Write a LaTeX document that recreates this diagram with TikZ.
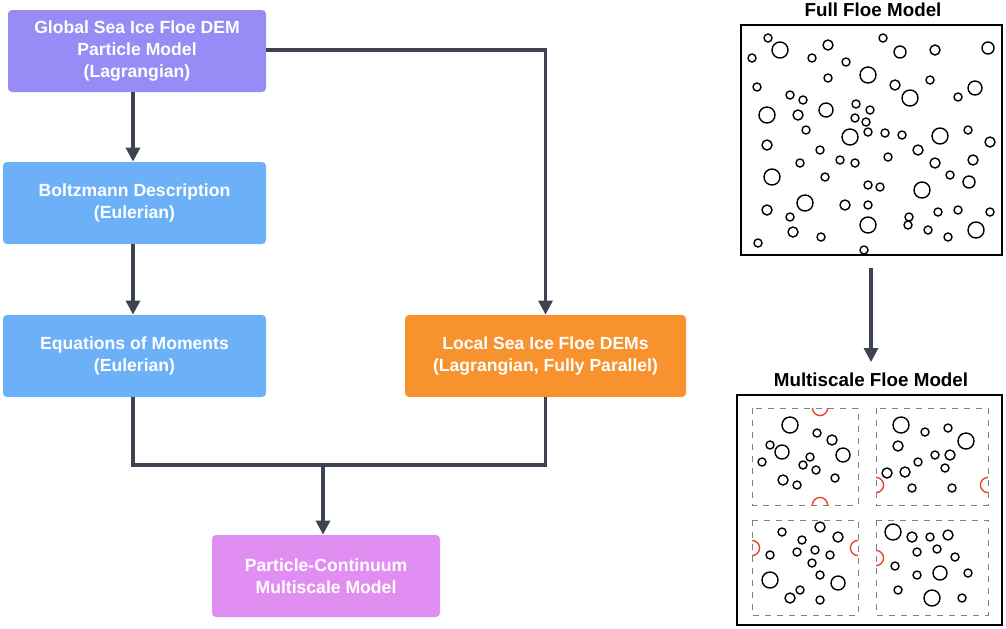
\documentclass[tikz,border=0pt]{standalone}
\usepackage{fontspec}
\setmainfont{Liberation Sans}
\usetikzlibrary{arrows.meta,positioning}
\definecolor{globalc}{HTML}{978BF5}
\definecolor{eulerc}{HTML}{6CB0F8}
\definecolor{localc}{HTML}{F7922E}
\definecolor{multic}{HTML}{E08EF2}
\definecolor{linkc}{HTML}{3D4350}
\definecolor{cutc}{HTML}{E8452C}
\tikzset{
    headarrow/.style = {-{Triangle[length=7pt,width=7pt]}},
    link/.style = {linkc, line width=1.6pt},
    stage/.style = {rounded corners=2pt, text=white, align=center,
        font=\fontsize{8.8}{10.8}\selectfont\bfseries, inner sep=0pt},
    floe/.style = {line width=0.7pt},
    cut/.style = {cutc, line width=0.7pt},
    sub/.style = {gray, dashed, line width=0.5pt},
    title/.style = {font=\fontsize{9.4}{11}\selectfont\bfseries}
}

\begin{document}
\begin{tikzpicture}[x=0.5pt,y=-0.5pt]
    \useasboundingbox (0,0) rectangle (1006,628);

    % stages
    \node[stage, fill=globalc, minimum width=129pt, minimum height=41pt] (G) at (137,51)
        {Global Sea Ice Floe DEM\\Particle Model\\(Lagrangian)};
    \node[stage, fill=eulerc, minimum width=131.5pt, minimum height=41pt] (B) at (134.5,203)
        {Boltzmann Description\\(Eulerian)};
    \node[stage, fill=eulerc, minimum width=131.5pt, minimum height=41pt] (E) at (134.5,356)
        {Equations of Moments\\(Eulerian)};
    \node[stage, fill=localc, minimum width=140.5pt, minimum height=41pt] (L) at (545.5,356)
        {Local Sea Ice Floe DEMs\\(Lagrangian, Fully Parallel)};
    \node[stage, fill=multic, minimum width=114pt, minimum height=41pt] (P) at (326,576)
        {Particle-Continuum\\Multiscale Model};

    % edges
    \foreach \Source/\Target in {G/B, B/E}
        \draw[link, headarrow] (\Source.south -| 133,0) -- (\Target.north -| 133,0);
    \draw[link, headarrow] (G.east |- 0,50) -| (L.north);
    \coordinate (M) at (323,465);
    \draw[link] (E.south -| 133,0) |- (M) -| (L.south);
    \draw[link, headarrow] (M) -- (P.north -| M);

    % full floe model
    \node[title] (FT) at (873,10) {Full Floe Model};
    \node[draw, line width=0.8pt, minimum width=130.5pt, minimum height=115pt, inner sep=0pt] (F) at (871.5,140) {};
    \foreach \X/\Y/\R in {768/38/4,780/50/8,752/58/4,828/45/5,883/38/4,900/52/6,935/50/5,988/48/6,
        812/58/4,846/62/4,868/75/8,828/78/4,895/85/5,930/80/4,975/88/7,757/87/4,790/95/4,803/100/4,
        826/110/7,856/104/4,870/110/4,910/98/8,767/115/8,798/115/5,855/118/4,866/122/4,958/97/4,
        806/130/4,850/137/8,868/132/4,885/133/4,902/135/4,940/136/8,968/130/4,767/145/5,820/150/4,
        840/160/4,918/150/5,990/142/5,800/163/4,855/163/4,888/157/4,935/163/5,973/160/5,772/177/8,
        825/177/4,868/185/4,880/187/4,922/190/8,969/182/6,950/175/4,805/203/8,845/205/5,868/205/4,
        767/210/5,790/217/4,868/225/8,909/217/4,928/230/4,938/212/4,958/210/4,990/212/4,976/230/8,
        793/232/5,821/237/4,908/225/4,948/237/4,758/243/4,864/250/4}
        \draw[floe] (\X,\Y) circle[radius=\R*0.5pt];

    % multiscale floe model
    \node[title] (MT) at (871,380) {Multiscale Floe Model};
    \node[draw, line width=0.8pt, minimum width=132.5pt, minimum height=115pt, inner sep=0pt] (Q) at (869.5,510) {};
    \coordinate (FA) at (871,268);
    \coordinate (QA) at (871,362);
    \draw[link, headarrow] (FA) -- (QA);
    \foreach \Xa/\Ya/\Xb/\Yb in {752/408/858/505, 876/408/988/505, 752/520/858/615, 876/520/988/615}
        \draw[sub] (\Xa,\Ya) rectangle (\Xb,\Yb);
    \foreach \X/\Y/\R in {790/425/8,817/433/4,832/440/5,770/445/4,782/452/7,810/457/4,843/455/7,
        803/465/4,816/470/4,762/462/4,783/480/5,797/485/4,835/478/4,
        901/425/8,925/432/4,948/428/4,966/441/8,898/446/5,935/455/4,950/455/5,918/462/4,945/468/4,
        887/473/5,905/472/5,912/488/4,952/488/4,
        782/532/4,820/527/5,802/540/4,838/537/5,770/555/4,797/552/4,815/550/4,830/555/4,812/563/4,
        770/580/8,820/575/4,838/583/7,800/590/4,790/598/5,820/600/4,
        893/532/8,912/537/5,930/537/4,948/535/5,917/552/4,937/549/4,955/557/4,895/566/4,917/575/4,
        940/573/7,968/573/4,898/590/4,932/598/8,962/598/4}
        \draw[floe] (\X,\Y) circle[radius=\R*0.5pt];
    % cut floes at sub-domain edges
    \foreach \Xa/\Ya/\Xb/\Yb/\X/\Y in {752/408/858/505/820/408, 752/408/858/505/820/505,
        876/408/988/505/876/485, 876/408/988/505/988/485,
        752/520/858/615/752/548, 752/520/858/615/858/548, 876/520/988/615/876/558}
        {
        \begin{scope}
            \clip (\Xa,\Ya) rectangle (\Xb,\Yb);
            \draw[cut] (\X,\Y) circle[radius=3.8pt];
        \end{scope}
        }
\end{tikzpicture}
\end{document}
